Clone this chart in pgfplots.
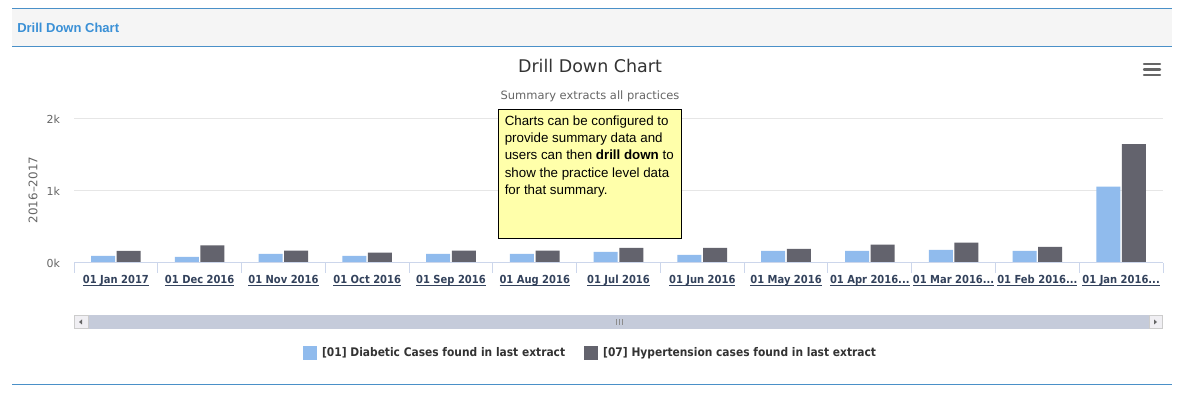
\documentclass[border=0pt]{standalone}
\usepackage{fontspec}
\setmainfont{Liberation Sans}
\newfontfamily\dvc{DejaVu Sans Condensed}
\newfontfamily\dvs{DejaVu Sans}
\usepackage{pgfplots}
\usepackage{pgfplotstable}
\pgfplotsset{compat=1.18}
\definecolor{cblue}{RGB}{144,187,237}
\definecolor{cdark}{RGB}{99,99,109}
\definecolor{hdrblue}{RGB}{58,144,214}
\definecolor{lineblue}{RGB}{74,144,200}
\definecolor{hdrbg}{RGB}{245,245,245}
\definecolor{gridc}{RGB}{230,230,230}
\definecolor{axc}{RGB}{204,214,235}
\definecolor{tickc}{RGB}{51,66,92}
\definecolor{txt}{RGB}{51,51,51}
\definecolor{subc}{RGB}{102,102,102}
\definecolor{tip}{RGB}{255,255,170}
\definecolor{track}{RGB}{197,203,218}
\definecolor{btn}{RGB}{240,239,243}
\newcommand\ul[1]{\vtop{\hbox{\raisebox{0pt}[7pt][0pt]{#1}}\kern1.1pt\hrule height0.6pt}}
\pgfplotstableread{
x diab hyp
0 100 170
1 85 245
2 128 172
3 100 145
4 128 172
5 128 172
6 155 210
7 113 210
8 169 197
9 169 254
10 183 282
11 169 225
12 1062 1650
}\datatable
\begin{document}
\begin{tikzpicture}[x=0.75pt,y=-0.75pt]
\path[fill=white] (0,0) rectangle (1190,398);
\coordinate (axorig) at (74,263);
\fill[hdrbg] (12,9) rectangle (1172,47);
\draw[lineblue,line width=0.75pt] (12,9)--(1172,9);
\draw[lineblue,line width=0.75pt] (12,47)--(1172,47);
\draw[lineblue,line width=0.75pt] (12,385)--(1172,385);
\node[anchor=west,text=hdrblue,font=\bfseries\fontsize{9.75}{11}\selectfont,inner sep=0pt] at (17,28) {Drill Down Chart};
\node[text=txt,font=\dvs\fontsize{13.1}{15}\selectfont,inner sep=0pt] at (590,66) {Drill Down Chart};
\node[text=subc,font=\dvs\fontsize{8.6}{10}\selectfont,inner sep=0pt] at (590,96) {Summary extracts all practices};
% hamburger
\foreach \yy in {64,69.5,75}{\draw[subc,line width=1.8pt,line cap=round] (1144,\yy)--(1160,\yy);}
\begin{axis}[
 at={(axorig)}, anchor=south west,
 scale only axis, width=816.75pt, height=108pt,
 xmin=-0.5, xmax=12.5, ymin=0, ymax=2000,
 axis line style={draw=none},
 ytick={0,1000,2000}, yticklabels={0k,1k,2k},
 ymajorgrids, grid style={gridc, line width=0.75pt},
 xtick={0,...,12},
 xticklabels={\ul{01 Jan 2017},\ul{01 Dec 2016},\ul{01 Nov 2016},\ul{01 Oct 2016},\ul{01 Sep 2016},\ul{01 Aug 2016},\ul{01 Jul 2016},\ul{01 Jun 2016},\ul{01 May 2016},\ul{01 Apr 2016...},\ul{01 Mar 2016...},\ul{01 Feb 2016...},\ul{01 Jan 2016...}},
 minor xtick={-0.5,0.5,...,12.5},
 major tick length=0pt, minor tick length=7.5pt,
 tick align=outside, xtick pos=bottom, ytick pos=left,
 minor tick style={axc, line width=0.75pt},
 major tick style={draw=none},
 yticklabel style={font=\dvs\fontsize{8.25}{9}\selectfont, text=subc, xshift=-7pt},
 xticklabel style={font=\dvc\bfseries\fontsize{8.3}{9}\selectfont, text=tickc, yshift=-4.5pt},
 ylabel={2016–2017},
 ylabel style={at={(axis description cs:-0.0376,0.507)}, anchor=center, font=\dvs\fontsize{8.9}{10}\selectfont, text=subc},
 clip=false,
 legend columns=2,
 legend style={at={(axis description cs:0.4745,-0.625)}, anchor=center, draw=none, fill=none,
   font=\dvc\bfseries\fontsize{8.9}{10}\selectfont, text=txt,
   /tikz/every even column/.append style={column sep=12pt},
   /tikz/every odd column/.append style={column sep=2pt}},
]
\addplot[ybar, fill=cblue, draw=none, bar width=18pt, bar shift=-9.6pt,
  legend image code/.code={\fill[cblue] (0pt,-4.9pt) rectangle (10.5pt,4.9pt);}]
  table[x=x,y=diab]{\datatable};
\addlegendentry{[01] Diabetic Cases found in last extract}
\addplot[ybar, fill=cdark, draw=none, bar width=18pt, bar shift=9.6pt,
  legend image code/.code={\fill[cdark] (0pt,-4.9pt) rectangle (10.5pt,4.9pt);}]
  table[x=x,y=hyp]{\datatable};
\addlegendentry{[07] Hypertension cases found in last extract}
\draw[axc, line width=0.75pt] (axis cs:-0.5,0) -- (axis cs:12.5,0);
\end{axis}
% scrollbar
\fill[track] (74,315) rectangle (1163,329);
\draw[black!20,fill=btn,line width=0.6pt] (74.5,315.5) rectangle (88,328.5);
\draw[black!20,fill=btn,line width=0.6pt] (1149,315.5) rectangle (1162.5,328.5);
\fill[subc] (79,322)--(82,319.5)--(82,324.5)--cycle;
\fill[subc] (1157,322)--(1154,319.5)--(1154,324.5)--cycle;
\foreach \xx in {616,619,622}{\draw[black!45,line width=0.6pt] (\xx,319)--(\xx,325);}
% tooltip
\draw[black,fill=tip,line width=0.75pt] (498.5,109.5) rectangle (681.5,238.5);
\node[anchor=north west,align=left,inner sep=0pt,font=\fontsize{10}{12.9}\selectfont,text=black] at (504.5,115.5)
 {Charts can be configured to\\provide summary data and\\users can then \textbf{drill down} to\\show the practice level data\\for that summary.};
\end{tikzpicture}
\end{document}
